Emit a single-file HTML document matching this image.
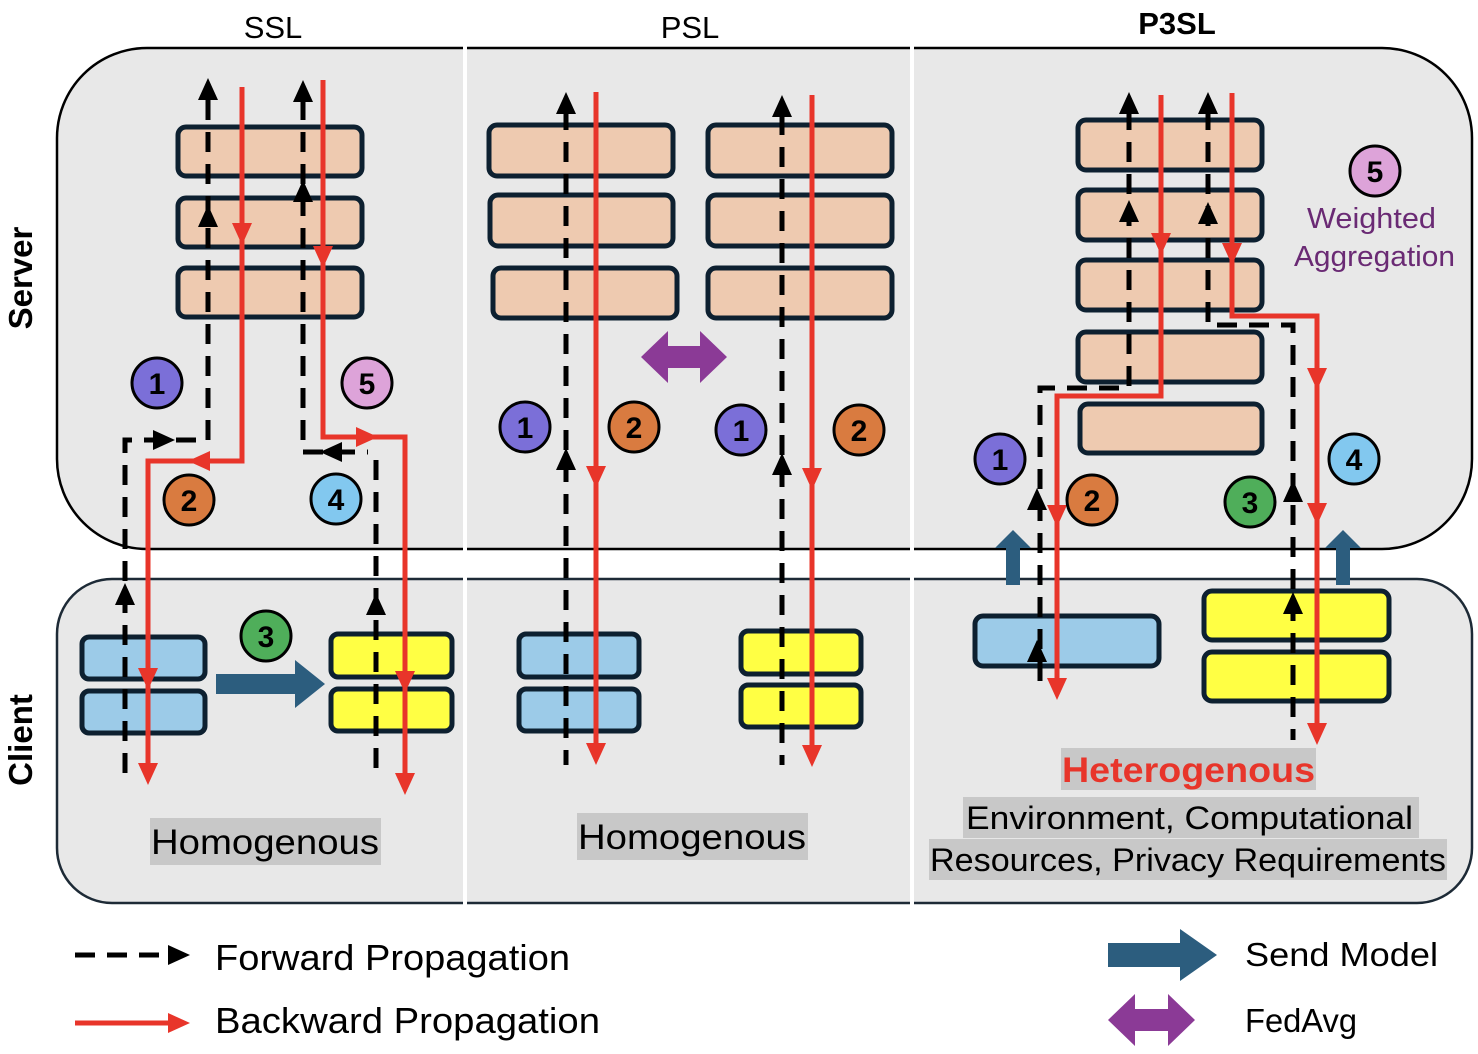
<!DOCTYPE html>
<html><head><meta charset="utf-8"><style>
html,body{margin:0;padding:0;background:#fff;}
svg{display:block;}
text{font-family:"Liberation Sans",sans-serif;}
</style></head><body>
<svg width="1478" height="1054" viewBox="0 0 1478 1054" xmlns="http://www.w3.org/2000/svg">
<rect x="57" y="48" width="1415" height="501" rx="90" fill="#e8e8e8" stroke="#000" stroke-width="2.5"/>
<rect x="57" y="579" width="1415" height="324" rx="55" fill="#e8e8e8" stroke="#1d2a36" stroke-width="2.5"/>
<rect x="463" y="45" width="4" height="860" fill="#fff"/>
<rect x="910" y="45" width="4" height="860" fill="#fff"/>
<text x="273" y="38" font-size="31" text-anchor="middle">SSL</text>
<text x="690" y="38" font-size="31" text-anchor="middle">PSL</text>
<text x="1177" y="34" font-size="31" font-weight="bold" text-anchor="middle">P3SL</text>
<text transform="translate(32,278) rotate(-90)" font-size="33" font-weight="bold" text-anchor="middle">Server</text>
<text transform="translate(32,740) rotate(-90)" font-size="33" font-weight="bold" text-anchor="middle">Client</text>

<g fill="#eecab0" stroke="#0d2030" stroke-width="5">
<rect x="178" y="127" width="184" height="49" rx="8"/>
<rect x="178" y="198" width="184" height="49" rx="8"/>
<rect x="178" y="268" width="184" height="49" rx="8"/>
<rect x="489" y="125" width="184" height="51" rx="8"/>
<rect x="490" y="195" width="183" height="51" rx="8"/>
<rect x="493" y="268" width="184" height="50" rx="8"/>
<rect x="708" y="125" width="184" height="51" rx="8"/>
<rect x="708" y="195" width="184" height="51" rx="8"/>
<rect x="708" y="268" width="184" height="50" rx="8"/>
<rect x="1078" y="120" width="184" height="50" rx="8"/>
<rect x="1078" y="190" width="184" height="50" rx="8"/>
<rect x="1078" y="260" width="184" height="50" rx="8"/>
<rect x="1078" y="332" width="184" height="50" rx="8"/>
<rect x="1080" y="404" width="182" height="49" rx="8"/>
</g>
<g stroke="#0d2030" stroke-width="5">
<rect x="82" y="637" width="123" height="42" rx="7" fill="#9ccbe8"/>
<rect x="82" y="691" width="123" height="42" rx="7" fill="#9ccbe8"/>
<rect x="331" y="634" width="121" height="43" rx="7" fill="#ffff44"/>
<rect x="331" y="689" width="121" height="42" rx="7" fill="#ffff44"/>
<rect x="519" y="634" width="120" height="43" rx="7" fill="#9ccbe8"/>
<rect x="519" y="689" width="120" height="42" rx="7" fill="#9ccbe8"/>
<rect x="741" y="631" width="120" height="43" rx="7" fill="#ffff44"/>
<rect x="741" y="685" width="120" height="42" rx="7" fill="#ffff44"/>
<rect x="975" y="616" width="184" height="50" rx="8" fill="#9ccbe8"/>
<rect x="1204" y="591" width="185" height="49" rx="8" fill="#ffff44"/>
<rect x="1204" y="652" width="185" height="49" rx="8" fill="#ffff44"/>
</g>

<g fill="none" stroke="#000" stroke-width="5" stroke-dasharray="20,12">
<path d="M208 100 V440 H125 V775"/>
<path d="M303 100 V452 H368"/>
<path d="M376 460 V780"/>
<path d="M566 110 V765"/>
<path d="M782 115 V765"/>
<path d="M1129 110 V388 H1040 V690"/>
<path d="M1208 110 V325 H1293 V740"/>
<path d="M75 955 H165"/>
</g>
<g fill="#000">
<polygon points="208,78 198,100 218,100"/><polygon points="208,205 198,227 218,227"/>
<polygon points="303,80 293,102 313,102"/><polygon points="303,180 293,202 313,202"/>
<polygon points="175,440 153,430 153,450"/><polygon points="320,452 342,442 342,462"/>
<polygon points="125,583 115,605 135,605"/><polygon points="376,593 366,615 386,615"/>
<polygon points="566,92 556,114 576,114"/><polygon points="566,448 556,470 576,470"/>
<polygon points="782,95 772,117 792,117"/><polygon points="782,453 772,475 792,475"/>
<polygon points="1129,92 1119,114 1139,114"/><polygon points="1129,200 1119,222 1139,222"/>
<polygon points="1208,92 1198,114 1218,114"/><polygon points="1208,202 1198,224 1218,224"/>
<polygon points="1037,488 1027,510 1047,510"/><polygon points="1037,640 1027,662 1047,662"/>
<polygon points="1293,480 1283,502 1303,502"/><polygon points="1293,592 1283,614 1303,614"/>
<polygon points="190,955 168,945 168,965"/>
</g>
<g fill="none" stroke="#e8352a" stroke-width="5">
<path d="M242 87 V461 H148 V770"/>
<path d="M323 80 V437 H405 V780"/>
<path d="M596 92 V750"/>
<path d="M812 95 V750"/>
<path d="M1161 95 V396 H1057 V690"/>
<path d="M1232 93 V316 H1317 V735"/>
<path d="M75 1023 H170"/>
</g>
<g fill="#e8352a">
<polygon points="242,245 232,223 252,223"/><polygon points="188,461 210,451 210,471"/>
<polygon points="148,690 138,668 158,668"/><polygon points="148,785 138,763 158,763"/>
<polygon points="323,268 313,246 333,246"/><polygon points="378,437 356,427 356,447"/>
<polygon points="405,693 395,671 415,671"/><polygon points="405,795 395,773 415,773"/>
<polygon points="596,488 586,466 606,466"/><polygon points="596,765 586,743 606,743"/>
<polygon points="812,490 802,468 822,468"/><polygon points="812,767 802,745 822,745"/>
<polygon points="1161,255 1151,233 1171,233"/><polygon points="1057,527 1047,505 1067,505"/>
<polygon points="1057,700 1047,678 1067,678"/>
<polygon points="1232,265 1222,243 1242,243"/><polygon points="1317,390 1307,368 1327,368"/>
<polygon points="1317,525 1307,503 1327,503"/><polygon points="1317,745 1307,723 1327,723"/>
<polygon points="190,1023 168,1013 168,1033"/>
</g>

<g fill="#2c5d7e">
<polygon points="216,674 295,674 295,660 325,684 295,708 295,694 216,694"/>
<polygon points="1006,585 1006,548 995,548 1013,530 1031,548 1020,548 1020,585"/>
<polygon points="1336,585 1336,548 1325,548 1343,530 1361,548 1350,548 1350,585"/>
<polygon points="1108,943 1180,943 1180,929 1217,955 1180,981 1180,967 1108,967"/>
</g>
<g fill="#8b3a96">
<polygon points="641,357 668,331 668,346 700,346 700,331 727,357 700,383 700,368 668,368 668,383"/>
<polygon points="1108,1020 1135,994 1135,1009 1168,1009 1168,994 1195,1020 1168,1046 1168,1031 1135,1031 1135,1046"/>
</g>

<g stroke="#000" stroke-width="3" font-size="30" font-weight="bold" text-anchor="middle">
<circle cx="157" cy="383" r="25" fill="#7b6fd8"/><text x="157" y="394" stroke="none">1</text>
<circle cx="367" cy="383" r="25" fill="#dda3d9"/><text x="367" y="394" stroke="none">5</text>
<circle cx="189" cy="500" r="25" fill="#d97b40"/><text x="189" y="511" stroke="none">2</text>
<circle cx="336" cy="499" r="25" fill="#82c8ef"/><text x="336" y="510" stroke="none">4</text>
<circle cx="266" cy="636" r="25" fill="#4fae5a"/><text x="266" y="647" stroke="none">3</text>
<circle cx="525" cy="427" r="25" fill="#7b6fd8"/><text x="525" y="438" stroke="none">1</text>
<circle cx="634" cy="427" r="25" fill="#d97b40"/><text x="634" y="438" stroke="none">2</text>
<circle cx="741" cy="430" r="25" fill="#7b6fd8"/><text x="741" y="441" stroke="none">1</text>
<circle cx="859" cy="430" r="25" fill="#d97b40"/><text x="859" y="441" stroke="none">2</text>
<circle cx="1375" cy="171" r="25" fill="#dda3d9"/><text x="1375" y="182" stroke="none">5</text>
<circle cx="1000" cy="459" r="25" fill="#7b6fd8"/><text x="1000" y="470" stroke="none">1</text>
<circle cx="1092" cy="500" r="25" fill="#d97b40"/><text x="1092" y="511" stroke="none">2</text>
<circle cx="1250" cy="502" r="25" fill="#4fae5a"/><text x="1250" y="513" stroke="none">3</text>
<circle cx="1354" cy="459" r="25" fill="#82c8ef"/><text x="1354" y="470" stroke="none">4</text>
</g>
<text x="1307" y="228" font-size="29" fill="#6a2a74" textLength="129" lengthAdjust="spacingAndGlyphs">Weighted</text>
<text x="1294" y="266" font-size="29" fill="#6a2a74" textLength="161" lengthAdjust="spacingAndGlyphs">Aggregation</text>

<rect x="150" y="818" width="231" height="47" fill="#c8c8c8"/>
<text x="151" y="854" font-size="35" textLength="228" lengthAdjust="spacingAndGlyphs">Homogenous</text>
<rect x="577" y="813" width="231" height="47" fill="#c8c8c8"/>
<text x="578" y="849" font-size="35" textLength="228" lengthAdjust="spacingAndGlyphs">Homogenous</text>
<rect x="1061" y="748" width="255" height="42" fill="#c8c8c8"/>
<text x="1062" y="782" font-size="35" font-weight="bold" fill="#e8352a" textLength="253" lengthAdjust="spacingAndGlyphs">Heterogenous</text>
<rect x="963" y="797" width="456" height="41" fill="#c8c8c8"/>
<text x="966" y="829" font-size="32" textLength="447" lengthAdjust="spacingAndGlyphs">Environment, Computational</text>
<rect x="929" y="839" width="518" height="41" fill="#c8c8c8"/>
<text x="930" y="871" font-size="32" textLength="516" lengthAdjust="spacingAndGlyphs">Resources, Privacy Requirements</text>

<text x="215" y="970" font-size="36" textLength="355" lengthAdjust="spacingAndGlyphs">Forward Propagation</text>
<text x="215" y="1033" font-size="36" textLength="385" lengthAdjust="spacingAndGlyphs">Backward Propagation</text>
<text x="1245" y="966" font-size="33" textLength="193" lengthAdjust="spacingAndGlyphs">Send Model</text>
<text x="1245" y="1032" font-size="33" textLength="112" lengthAdjust="spacingAndGlyphs">FedAvg</text>
</svg>
</body></html>
